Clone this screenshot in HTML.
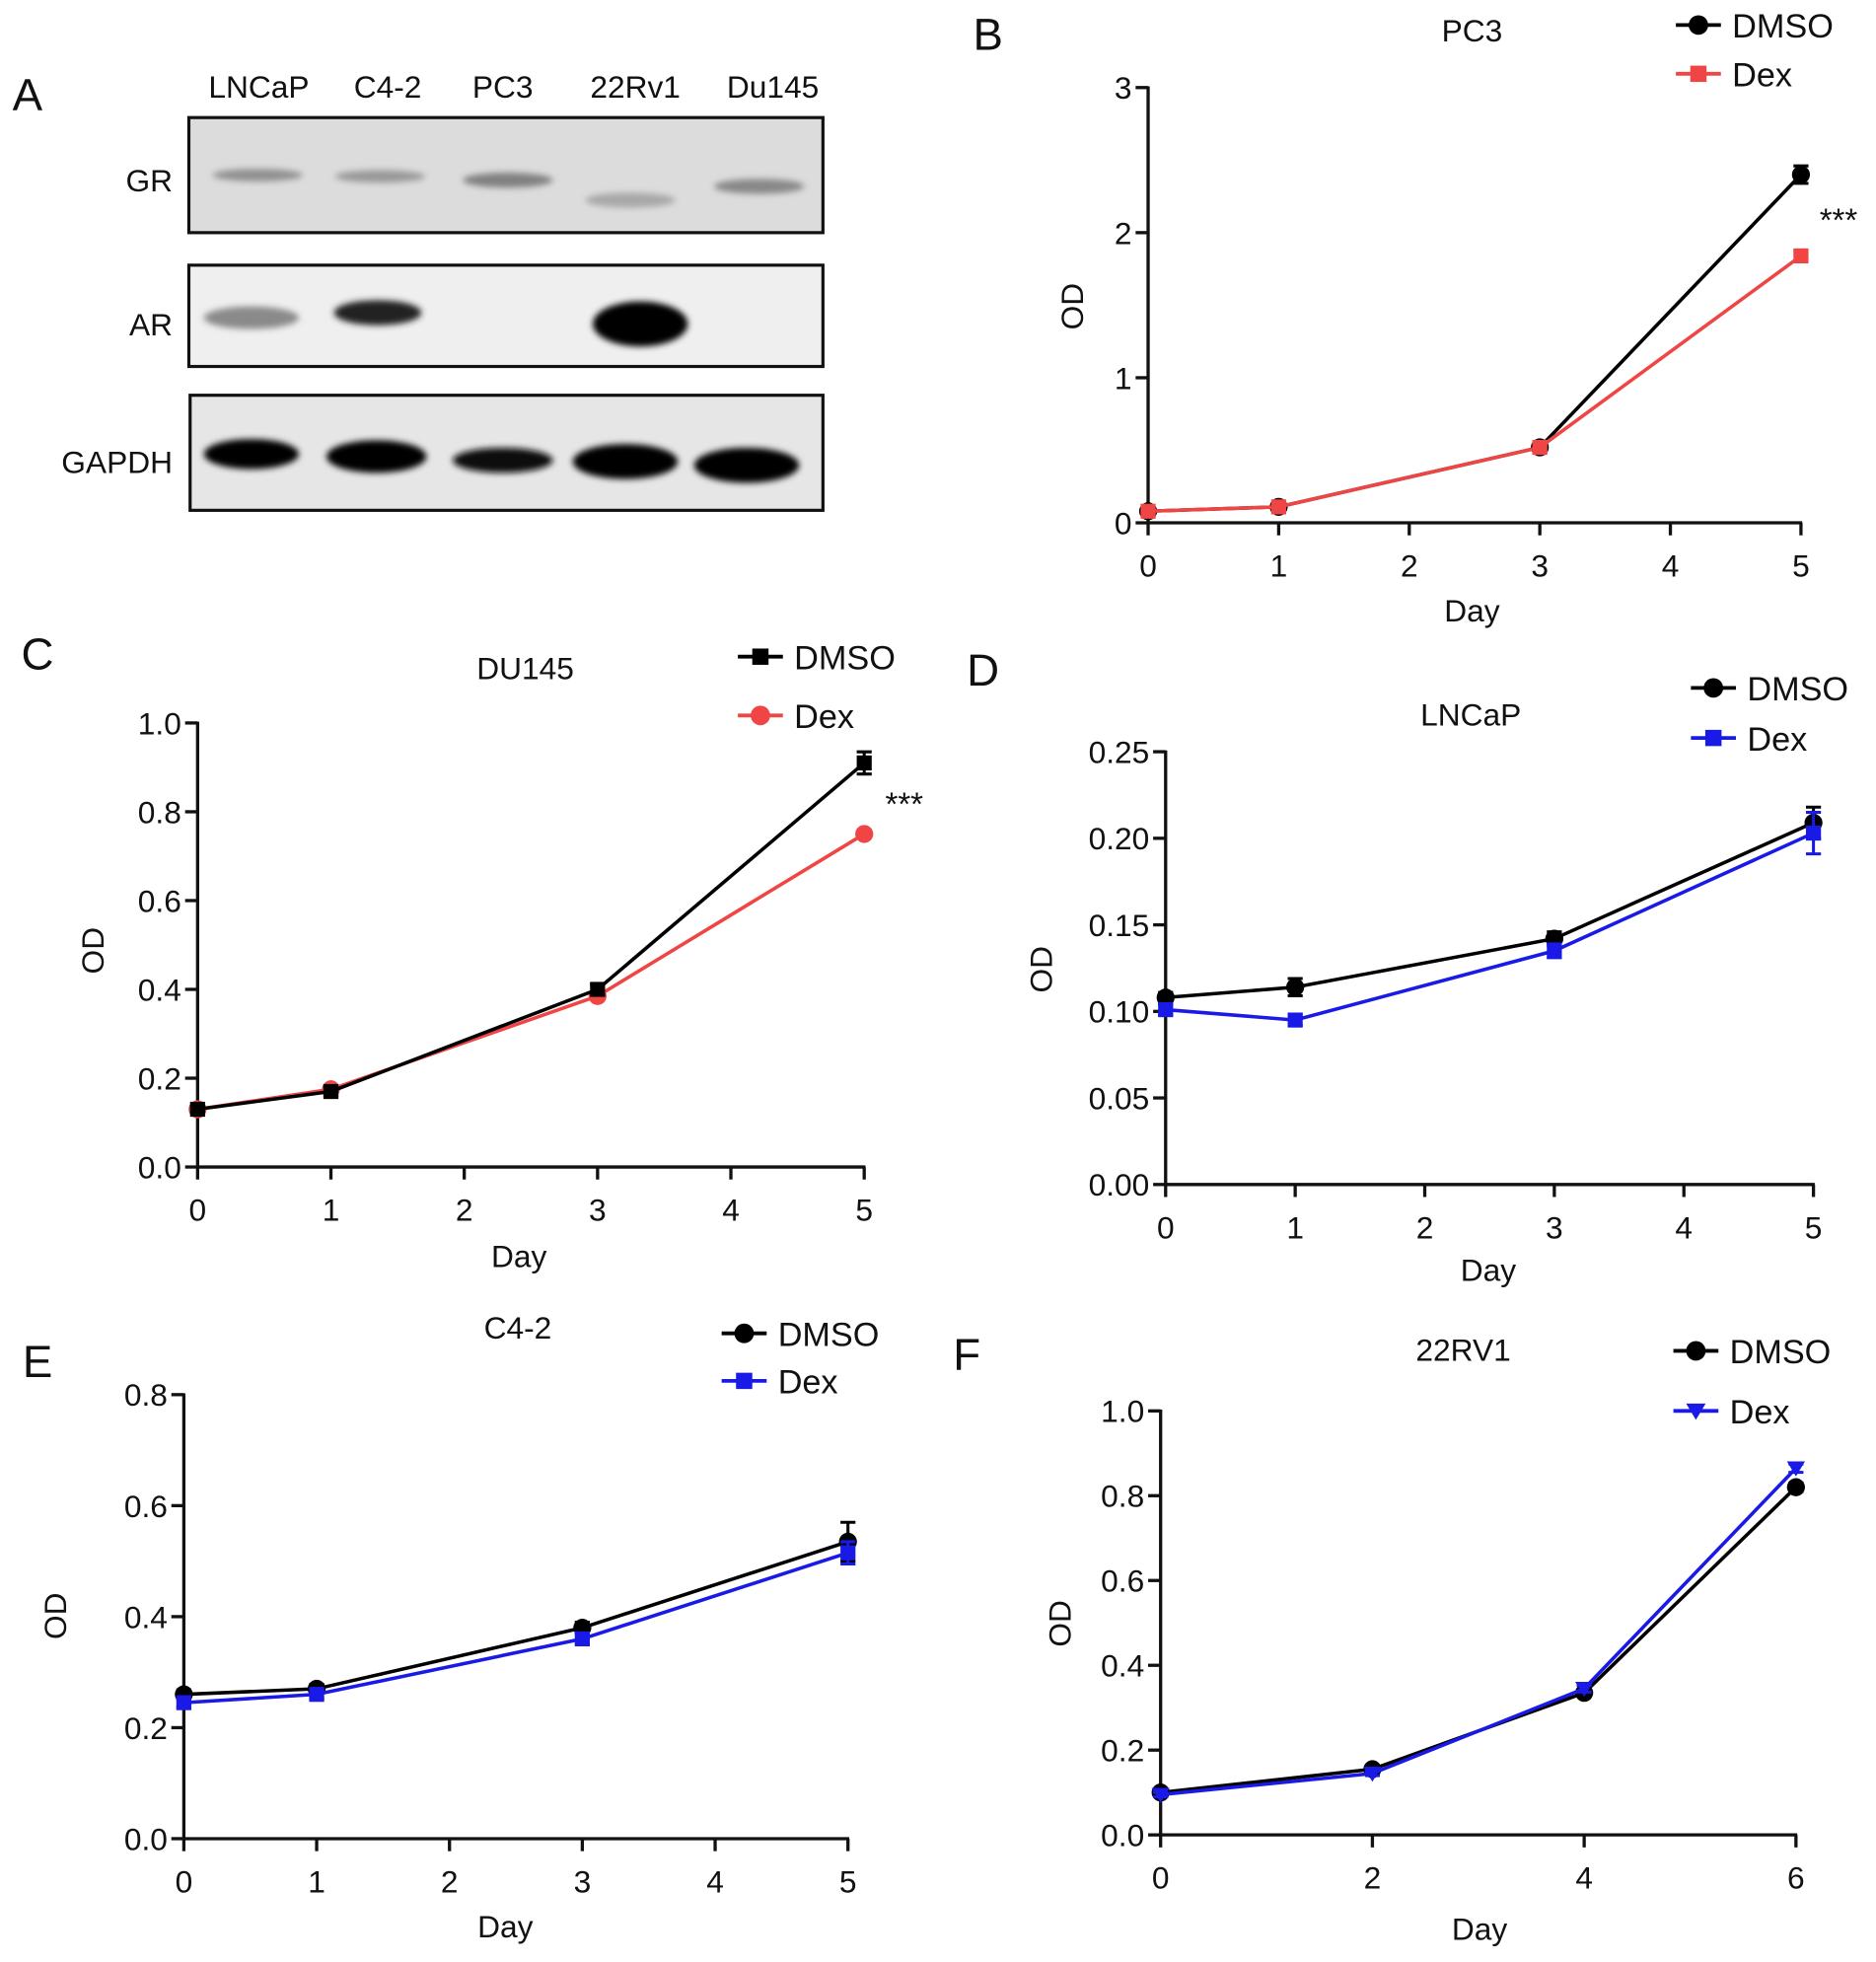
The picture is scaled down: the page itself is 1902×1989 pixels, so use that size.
<!DOCTYPE html>
<html><head><meta charset="utf-8"><style>
html,body{margin:0;padding:0;background:#fff;}
svg{display:block;}
text{font-family:"Liberation Sans",sans-serif;fill:#111;}
</style></head><body>
<svg id="fig" width="1902" height="1989" viewBox="0 0 1500 1568.6" xmlns="http://www.w3.org/2000/svg">
<defs>
<filter id="blur2" x="-20%" y="-50%" width="140%" height="200%"><feGaussianBlur stdDeviation="2.5"/></filter>
</defs>
<g id="panelA">
<text x="10" y="88" font-size="36">A</text>
<text x="207" y="78" font-size="25" text-anchor="middle">LNCaP</text>
<text x="310" y="78" font-size="25" text-anchor="middle">C4-2</text>
<text x="402" y="78" font-size="25" text-anchor="middle">PC3</text>
<text x="508" y="78" font-size="25" text-anchor="middle">22Rv1</text>
<text x="618" y="78" font-size="25" text-anchor="middle">Du145</text>
<text x="138" y="153" font-size="25" text-anchor="end">GR</text>
<text x="138" y="268" font-size="25" text-anchor="end">AR</text>
<text x="138" y="378" font-size="25" text-anchor="end">GAPDH</text>
<g>
<rect x="151" y="94" width="507" height="92" fill="#dcdcdc" stroke="#111" stroke-width="2.5"/>
<ellipse cx="206" cy="140" rx="36" ry="5" fill="#909090" filter="url(#blur2)"/>
<ellipse cx="304" cy="141" rx="36" ry="5" fill="#989898" filter="url(#blur2)"/>
<ellipse cx="406" cy="144" rx="36" ry="6" fill="#808080" filter="url(#blur2)"/>
<ellipse cx="504" cy="160" rx="36" ry="6" fill="#a8a8a8" filter="url(#blur2)"/>
<ellipse cx="607" cy="149" rx="36" ry="6" fill="#888" filter="url(#blur2)"/>
</g>
<g>
<rect x="151" y="212" width="507" height="81" fill="#efefef" stroke="#111" stroke-width="2.5"/>
<ellipse cx="201" cy="254" rx="38" ry="9" fill="#8a8a8a" filter="url(#blur2)"/>
<ellipse cx="302" cy="250" rx="35" ry="10" fill="#222" filter="url(#blur2)"/>
<ellipse cx="512" cy="259" rx="38" ry="18" fill="#000" filter="url(#blur2)"/>
</g>
<g>
<rect x="152" y="316" width="506" height="92" fill="#e6e6e6" stroke="#111" stroke-width="2.5"/>
<ellipse cx="201" cy="363" rx="38" ry="12" fill="#000" filter="url(#blur2)"/>
<ellipse cx="301" cy="365" rx="40" ry="13" fill="#000" filter="url(#blur2)"/>
<ellipse cx="402" cy="368" rx="40" ry="10" fill="#111" filter="url(#blur2)"/>
<ellipse cx="500" cy="369" rx="42" ry="14" fill="#000" filter="url(#blur2)"/>
<ellipse cx="597" cy="372" rx="42" ry="14" fill="#000" filter="url(#blur2)"/>
</g>
</g>
<g id="charts"></g>
</svg>
<script>
// Panel B (PC3)
const bDays = [0, 1, 3, 5];
const bDmso = [0.08, 0.11, 0.52, 2.40];
const bDex = [0.08, 0.11, 0.52, 1.84];
const bDmsoErr = [0.01, 0.01, 0.02, 0.06];
const bDexErr = [0.01, 0.01, 0.02, 0.03];
const bXTicks = [0, 1, 2, 3, 4, 5];
const bYTicks = ["0", "1", "2", "3"];
// Panel C (DU145)
const cDays = [0, 1, 3, 5];
const cDmso = [0.13, 0.17, 0.40, 0.91];
const cDex = [0.13, 0.175, 0.385, 0.75];
const cDmsoErr = [0.008, 0.01, 0.012, 0.025];
const cDexErr = [0.005, 0.005, 0.008, 0.008];
const cXTicks = [0, 1, 2, 3, 4, 5];
const cYTicks = ["0.0", "0.2", "0.4", "0.6", "0.8", "1.0"];
// Panel D (LNCaP)
const dDays = [0, 1, 3, 5];
const dDmso = [0.108, 0.114, 0.142, 0.209];
const dDex = [0.101, 0.095, 0.135, 0.203];
const dDmsoErr = [0.003, 0.005, 0.004, 0.009];
const dDexErr = [0.003, 0.003, 0.004, 0.012];
const dXTicks = [0, 1, 2, 3, 4, 5];
const dYTicks = ["0.00", "0.05", "0.10", "0.15", "0.20", "0.25"];
// Panel E (C4-2)
const eDays = [0, 1, 3, 5];
const eDmso = [0.26, 0.27, 0.38, 0.535];
const eDex = [0.245, 0.26, 0.36, 0.515];
const eDmsoErr = [0.008, 0.008, 0.01, 0.035];
const eDexErr = [0.008, 0.008, 0.01, 0.02];
const eXTicks = [0, 1, 2, 3, 4, 5];
const eYTicks = ["0.0", "0.2", "0.4", "0.6", "0.8"];
// Panel F (22RV1)
const fDays = [0, 2, 4, 6];
const fDmso = [0.10, 0.155, 0.335, 0.82];
const fDex = [0.095, 0.145, 0.345, 0.865];
const fDmsoErr = [0.005, 0.005, 0.008, 0.01];
const fDexErr = [0.005, 0.005, 0.008, 0.01];
const fXTicks = [0, 2, 4, 6];
const fYTicks = ["0.0", "0.2", "0.4", "0.6", "0.8", "1.0"];

const NS = "http://www.w3.org/2000/svg";
const root = document.getElementById("charts");
function mk(tag, attrs, parent) {
  const e = document.createElementNS(NS, tag);
  for (const k in attrs) e.setAttribute(k, attrs[k]);
  (parent || root).appendChild(e);
  return e;
}
function txt(parent, x, y, s, size, anchor, extra) {
  const t = mk("text", Object.assign({x: x, y: y, "font-size": size, "text-anchor": anchor || "middle"}, extra || {}), parent);
  t.textContent = s;
  return t;
}
function marker(g, shape, x, y, color, s) {
  let m;
  if (shape === "circle") m = mk("circle", {cx: x, cy: y, r: s * 0.6, fill: color}, g);
  else if (shape === "square") m = mk("rect", {x: x - s / 2, y: y - s / 2, width: s, height: s, fill: color}, g);
  else m = mk("polygon", {points: (x - s * 0.6) + "," + (y - s * 0.45) + " " + (x + s * 0.6) + "," + (y - s * 0.45) + " " + x + "," + (y + s * 0.55), fill: color}, g);
  return m;
}
function chart(p) {
  const g = mk("g", {});
  
  
  const xMax = p.xTicks[p.xTicks.length - 1];
  const yMax = parseFloat(p.yTicks[p.yTicks.length - 1]);
  const sx = v => p.x0 + (v / xMax) * (p.x1 - p.x0);
  const sy = v => p.y0 - (v / yMax) * (p.y0 - p.y1);
  const ax = mk("g", {stroke: "#111", "stroke-width": 2.6, fill: "none"}, g);
  
  
  mk("line", {x1: p.x0, y1: p.y1 - 1, x2: p.x0, y2: p.y0 + 1}, ax);
  mk("line", {x1: p.x0 - 1, y1: p.y0, x2: p.x1 + 1, y2: p.y0}, ax);
  p.xTicks.forEach(v => {
    mk("line", {x1: sx(v), y1: p.y0, x2: sx(v), y2: p.y0 + 10}, ax);
    const t = txt(g, sx(v), p.y0 + 43, String(v), 25);
    
    
  });
  p.yTicks.forEach(s => {
    const v = parseFloat(s);
    mk("line", {x1: p.x0 - 10, y1: sy(v), x2: p.x0, y2: sy(v)}, ax);
    const t = txt(g, p.x0 - 13, sy(v) + 9, s, 25, "end");
    
    
  });
  const xl = txt(g, p.dayX, p.dayY, "Day", 25);
  
  
  const yl = txt(g, 0, 0, "OD", 25, "middle", {transform: "translate(" + p.odX + "," + p.odY + ") rotate(-90)"});
  
  
  const tt = txt(g, p.titleX, p.titleY, p.title, 25);
  
  
  const pl = txt(g, p.letterX, p.letterY, p.letter, 36, "start");
  
  
  if (p.stars) {
    const st = txt(g, p.stars[0], p.stars[1], "***", 26);
    
    
  }
  p.series.forEach(s => {
    const sg = mk("g", {}, g);
    
    
    const pts = p.days.map((d, i) => sx(d) + "," + sy(s.vals[i])).join(" ");
    mk("polyline", {points: pts, fill: "none", stroke: s.color, "stroke-width": 2.8}, sg);
    p.days.forEach((d, i) => {
      const x = sx(d), yv = sy(s.vals[i]);
      const e = s.err[i];
      const yt = sy(s.vals[i] + e), yb = sy(s.vals[i] - e);
      const eb = mk("path", {d: "M" + x + "," + yt + "V" + yb + "M" + (x - 6) + "," + yt + "H" + (x + 6) + "M" + (x - 6) + "," + yb + "H" + (x + 6), stroke: s.color, "stroke-width": 2.4, fill: "none"}, sg);
      
      
      const m = marker(sg, s.shape, x, yv, s.color, 12);
      
      
    });
    const lg = mk("g", {}, g);
    
    
    mk("line", {x1: s.lx, y1: s.ly, x2: s.lx + 36, y2: s.ly, stroke: s.color, "stroke-width": 3}, lg);
    marker(lg, s.shape, s.lx + 18, s.ly, s.color, 13);
    txt(lg, s.lx + 45, s.ly + 10, s.label, 27, "start");
  });
}
const BLK = "#000", RED = "#f04545", BLU = "#1a1ae6";
chart({name: "chart-pc3", letter: "B", letterX: 778, letterY: 40, title: "PC3", titleX: 1177, titleY: 33,
  x0: 918, x1: 1440, y0: 418, y1: 70, days: bDays, xTicks: bXTicks, yTicks: bYTicks,
  dayX: 1177, dayY: 497, odX: 866, odY: 245, stars: [1470, 185],
  series: [
    {name: "series-dmso", label: "DMSO", vals: bDmso, err: bDmsoErr, color: BLK, shape: "circle", lx: 1340, ly: 20},
    {name: "series-dex", label: "Dex", vals: bDex, err: bDexErr, color: RED, shape: "square", lx: 1340, ly: 59}
  ]});
chart({name: "chart-du145", letter: "C", letterX: 17, letterY: 535, title: "DU145", titleX: 420, titleY: 543,
  x0: 158, x1: 691, y0: 933, y1: 578, days: cDays, xTicks: cXTicks, yTicks: cYTicks,
  dayX: 415, dayY: 1013, odX: 83, odY: 760, stars: [723, 652],
  series: [
    {name: "series-dex", label: "Dex", vals: cDex, err: cDexErr, color: RED, shape: "circle", lx: 590, ly: 572},
    {name: "series-dmso", label: "DMSO", vals: cDmso, err: cDmsoErr, color: BLK, shape: "square", lx: 590, ly: 525}
  ]});
chart({name: "chart-lncap", letter: "D", letterX: 773, letterY: 548, title: "LNCaP", titleX: 1176, titleY: 580,
  x0: 932, x1: 1450, y0: 947, y1: 601, days: dDays, xTicks: dXTicks, yTicks: dYTicks,
  dayX: 1190, dayY: 1024, odX: 841, odY: 775,
  series: [
    {name: "series-dmso", label: "DMSO", vals: dDmso, err: dDmsoErr, color: BLK, shape: "circle", lx: 1352, ly: 550},
    {name: "series-dex", label: "Dex", vals: dDex, err: dDexErr, color: BLU, shape: "square", lx: 1352, ly: 590}
  ]});
chart({name: "chart-c4-2", letter: "E", letterX: 18, letterY: 1101, title: "C4-2", titleX: 414, titleY: 1070,
  x0: 147, x1: 678, y0: 1470, y1: 1115, days: eDays, xTicks: eXTicks, yTicks: eYTicks,
  dayX: 404, dayY: 1549, odX: 53, odY: 1292,
  series: [
    {name: "series-dmso", label: "DMSO", vals: eDmso, err: eDmsoErr, color: BLK, shape: "circle", lx: 577, ly: 1066},
    {name: "series-dex", label: "Dex", vals: eDex, err: eDexErr, color: BLU, shape: "square", lx: 577, ly: 1104}
  ]});
chart({name: "chart-22rv1", letter: "F", letterX: 762, letterY: 1095, title: "22RV1", titleX: 1170, titleY: 1088,
  x0: 928, x1: 1436, y0: 1467, y1: 1128, days: fDays, xTicks: fXTicks, yTicks: fYTicks,
  dayX: 1183, dayY: 1551, odX: 856, odY: 1298,
  series: [
    {name: "series-dmso", label: "DMSO", vals: fDmso, err: fDmsoErr, color: BLK, shape: "circle", lx: 1338, ly: 1080},
    {name: "series-dex", label: "Dex", vals: fDex, err: fDexErr, color: BLU, shape: "triangle", lx: 1338, ly: 1128}
  ]});
</script>
</body></html>
